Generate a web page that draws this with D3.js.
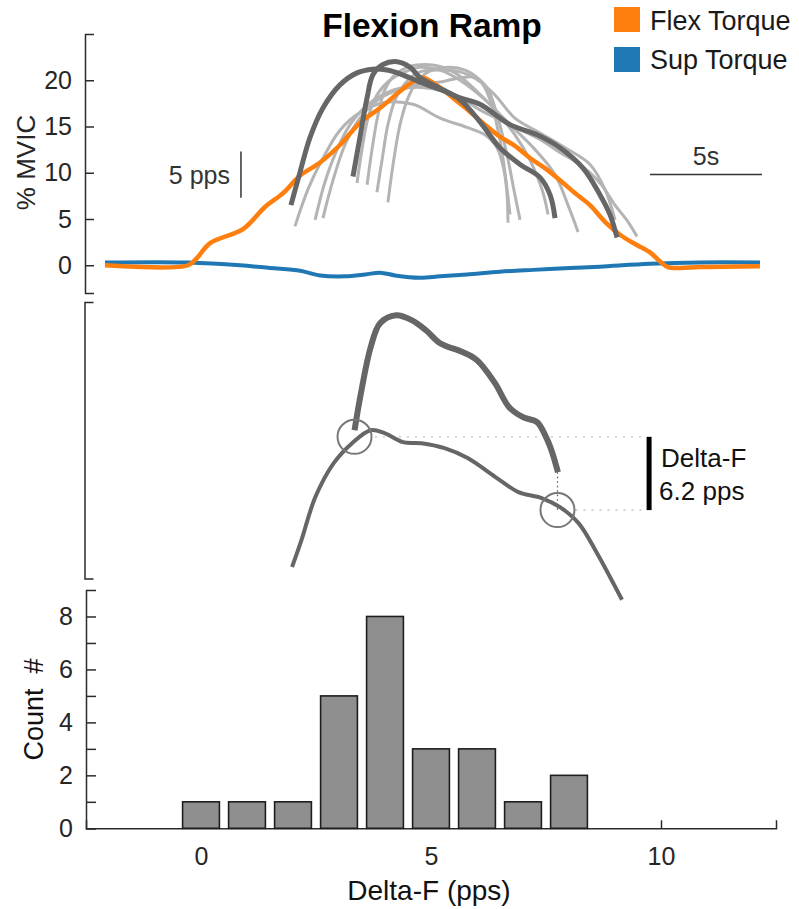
<!DOCTYPE html>
<html><head><meta charset="utf-8">
<script src="https://cdn.jsdelivr.net/npm/d3@7"></script>
<style>
body{margin:0;background:#fff}
svg text{font-family:"Liberation Sans",Arial,Helvetica,sans-serif}
</style>
</head><body>
<svg id="chart" width="799" height="909"></svg>
<script>
// ---------------- DATA ----------------
// time (s) , % MVIC
const flexTorque = [[0,0],[3.71,0],[4.11,0.8],[4.69,2.4],[6.16,3.9],[7.14,6.3],[7.95,7.8],[8.71,9.7],[9.6,11.1],[10.49,13.0],[11.38,15.4],[12.28,17.0],[13.17,18.8],[13.71,19.8],[14.15,20.3],[14.96,19.2],[15.63,17.9],[16.29,16.6],[16.96,15.2],[17.63,13.9],[18.3,12.9],[18.97,11.6],[19.64,10.5],[20.31,9.2],[20.98,7.8],[21.65,6.5],[22.32,4.7],[22.99,3.3],[23.66,2.3],[24.33,1.4],[24.78,0.4],[25.13,-0.2],[25.67,-0.3],[26.56,-0.2],[29.24,-0.1]];
const supTorque = [[0,0.3],[3.71,0.3],[6.03,0],[7.37,-0.3],[8.71,-0.6],[9.6,-1.1],[10.71,-1.2],[11.61,-1.0],[12.28,-0.8],[12.95,-1.1],[14.06,-1.35],[14.96,-1.2],[16.16,-1.0],[17.63,-0.7],[19.11,-0.5],[20.76,-0.3],[22.1,-0.15],[24.33,0.15],[26.56,0.3],[29.24,0.3]];

// smoothed firing rates of the other units (display units of the top axis)
const unitRates = [
  [[8.48,4.2],[9.06,8.2],[9.69,11.4],[10.49,14.6],[11.38,16.5],[12.5,17.6],[13.75,17.4],[14.96,15.9],[16.16,14.9],[16.96,14.1],[17.5,12.7],[17.81,10.3],[17.95,7.6],[17.99,4.6]],
  [[9.38,4.9],[9.82,9.0],[10.36,12.5],[10.94,15.2],[11.74,17.4],[12.72,18.8],[13.84,19.5],[14.96,19.8],[15.94,20.3],[16.52,20.3],[17.05,19.2],[17.5,16.3],[17.95,11.9],[18.3,7.6],[18.53,4.9]],
  [[9.73,5.1],[10.18,9.2],[10.71,13.0],[11.38,15.9],[12.19,17.9],[13.17,19.0],[14.29,19.2],[15.63,18.4],[16.74,16.8],[18.08,15.2],[19.42,13.6],[20.31,12.2],[21.21,10.9],[22.1,8.9],[22.77,6.5],[23.35,4.7],[23.75,3.1]],
  [[11.25,8.9],[11.47,12.5],[11.74,15.9],[12.14,18.4],[12.72,20.0],[13.39,20.9],[14.06,21.4],[14.96,21.1],[15.85,20.0],[16.96,17.9],[18.08,15.2],[19.2,12.5],[20.09,9.8],[20.67,6.5],[21.12,3.6]],
  [[11.7,8.7],[11.92,12.5],[12.19,16.3],[12.5,19.0],[12.95,20.6],[13.62,21.5],[14.29,21.7],[14.96,21.5],[15.63,20.8],[16.52,19.0],[17.41,16.8],[18.3,14.1],[18.97,11.4],[19.51,8.2],[19.78,5.5]],
  [[12.14,7.9],[12.37,11.4],[12.63,15.2],[12.99,18.1],[13.53,20.0],[14.06,20.9],[14.96,21.1],[15.85,20.9],[16.65,20.0],[17.41,18.4],[18.3,15.9],[19.42,14.3],[20.54,12.7],[21.65,10.9],[22.32,8.2],[22.77,4.9]],
  [[12.63,6.8],[12.86,10.9],[13.17,15.2],[13.53,18.1],[13.97,20.0],[14.6,21.1],[15.4,21.4],[16.07,21.1],[16.74,20.0],[17.19,17.9],[17.63,13.6],[17.9,9.2],[18.08,5.5]]
];
const controlRateTop = [[8.3,6.5],[8.71,10.1],[9.15,13.8],[9.73,17.0],[10.49,19.5],[11.25,20.8],[11.96,21.2],[12.59,21.1],[13.17,20.7],[14.06,19.8],[14.96,19.0],[15.85,18.1],[16.74,17.4],[18.08,15.2],[19.29,14.1],[20.31,12.7],[21.34,10.5],[22.1,7.6],[22.54,5.5],[22.86,3.0]];
const testRateTop = [[11.07,9.6],[11.38,13.8],[11.7,18.1],[11.96,20.6],[12.41,21.7],[13.04,22.0],[13.62,21.4],[14.06,20.3],[14.82,19.3],[15.85,17.9],[16.74,15.5],[17.63,12.7],[18.53,10.9],[19.42,9.5],[19.87,7.6],[20.09,5.1]];

// middle panel: pps
const testRate = [[11.14,12.55],[11.45,15.93],[11.86,19.57],[12.28,21.6],[12.99,22.28],[13.71,21.85],[14.33,21.01],[14.96,19.91],[15.98,19.15],[16.61,18.47],[17.41,16.53],[18.04,14.5],[18.66,13.65],[19.29,13.23],[19.69,11.96],[19.96,10.69],[20.22,9.0]];
const controlRate = [[8.35,0.97],[8.77,3.25],[9.39,6.89],[10.21,9.76],[11.03,11.45],[11.86,12.55],[12.48,12.3],[13.3,11.54],[14.13,11.45],[15.16,11.03],[16.19,10.19],[17.43,8.58],[18.46,7.31],[19.49,6.81],[20.31,6.04],[21.14,4.69],[21.96,2.16],[23.08,-1.8]];
const recruitT = 11.14, derecruitT = 20.2;
const rateAtRecruit = 11.99, deltaF = 6.2;

// histogram
const binCenters = [0,1,2,3,4,5,6,7,8];
const counts = [1,1,1,5,8,3,3,1,2];
const histXTicks = [0,5,10];
const histYTicks = [0,1,2,3,4,5,6,7,8];
const topYTicks = [0,5,10,15,20];

// ---------------- DRAW ----------------
const svg = d3.select("#chart");
const AX = "#2b2b2b";
const ORANGE = "#ff7f0e", BLUE = "#1f77b4", DARK = "#666666", LIGHT = "#b4b4b4";

const xT = d3.scaleLinear().domain([0,30]).range([105,777]);
const yTop = d3.scaleLinear().domain([-3,25]).range([293,34]);
const yMid = d3.scaleLinear().domain([0,23.4]).range([578.5,302]);
const xH = d3.scaleLinear().domain([-2.5,12.5]).range([86,776]);
const yH = d3.scaleLinear().domain([0,9]).range([828.3,590]);

function styleAxis(g, fs){
  g.select(".domain").attr("stroke",AX).attr("stroke-width",1.5);
  g.selectAll(".tick line").attr("stroke",AX).attr("stroke-width",1.5);
  g.selectAll(".tick text").attr("fill","#262626").attr("font-size",fs)
    .attr("font-family","'Liberation Sans',Arial,sans-serif");
}

// ---- top panel ----
const gTopAx = svg.append("g").attr("transform","translate(85,0)")
  .call(d3.axisLeft(yTop).tickValues(topYTicks).tickSizeInner(-9).tickSizeOuter(-9).tickPadding(13));
styleAxis(gTopAx, 25);

svg.append("text").attr("transform","translate(35,162.5) rotate(-90)")
  .attr("text-anchor","middle").attr("font-size",26).attr("fill","#262626").text("% MVIC");

const lineTop = d3.line().x(d=>xT(d[0])).y(d=>yTop(d[1])).curve(d3.curveCatmullRom.alpha(0.5));

svg.append("path").datum(supTorque).attr("d",lineTop).attr("fill","none")
  .attr("stroke",BLUE).attr("stroke-width",4).attr("stroke-linejoin","round");

svg.append("g").selectAll("path").data(unitRates).join("path")
  .attr("d",lineTop).attr("fill","none").attr("stroke",LIGHT).attr("stroke-width",3);

svg.append("path").datum(flexTorque).attr("d",lineTop).attr("fill","none")
  .attr("stroke",ORANGE).attr("stroke-width",4.5).attr("stroke-linejoin","round");

[controlRateTop, testRateTop].forEach(s=>{
  svg.append("path").datum(s).attr("d",lineTop).attr("fill","none")
    .attr("stroke",DARK).attr("stroke-width",5);
});

// scale bars in top panel
const ppsBarT = 6.07;
svg.append("line").attr("x1",xT(ppsBarT)).attr("x2",xT(ppsBarT))
  .attr("y1",yTop(7.3)).attr("y2",yTop(12.3)).attr("stroke","#333").attr("stroke-width",1.5);
svg.append("text").attr("x",xT(ppsBarT)-11).attr("y",184).attr("text-anchor","end")
  .attr("font-size",25).attr("fill","#333").text("5 pps");
const sBarT0 = 24.33;
svg.append("line").attr("x1",xT(sBarT0)).attr("x2",xT(sBarT0+5))
  .attr("y1",yTop(9.8)).attr("y2",yTop(9.8)).attr("stroke","#333").attr("stroke-width",1.5);
svg.append("text").attr("x",(xT(sBarT0)+xT(sBarT0+5))/2).attr("y",165).attr("text-anchor","middle")
  .attr("font-size",25).attr("fill","#333").text("5s");

// title
svg.append("text").attr("x",432).attr("y",37).attr("text-anchor","middle")
  .attr("font-size",33.5).attr("font-weight","bold").attr("fill","#000").text("Flexion Ramp");

// legend
const legend = [["Flex Torque",ORANGE],["Sup Torque",BLUE]];
legend.forEach((d,i)=>{
  svg.append("rect").attr("x",614).attr("y",7+i*40).attr("width",26).attr("height",25).attr("fill",d[1]);
  svg.append("text").attr("x",650).attr("y",30+i*38.5).attr("font-size",27).attr("fill","#1a1a1a").text(d[0]);
});

// ---- middle panel ----
const gMidAx = svg.append("g").attr("transform","translate(84.5,0)")
  .call(d3.axisLeft(yMid).tickValues([]).tickSizeOuter(-9));
styleAxis(gMidAx, 25);

const lineMid = d3.line().x(d=>xT(d[0])).y(d=>yMid(d[1])).curve(d3.curveCatmullRom.alpha(0.5));

// dotted guide lines
const guideEndT = 23.97, barT = 24.29;
svg.append("line").attr("x1",xT(12.05)).attr("x2",xT(guideEndT))
  .attr("y1",yMid(rateAtRecruit)).attr("y2",yMid(rateAtRecruit))
  .attr("stroke","#bdbdbd").attr("stroke-width",1.3).attr("stroke-dasharray","2,6");
svg.append("line").attr("x1",xT(derecruitT)+18).attr("x2",xT(guideEndT))
  .attr("y1",yMid(rateAtRecruit-deltaF)).attr("y2",yMid(rateAtRecruit-deltaF))
  .attr("stroke","#bdbdbd").attr("stroke-width",1.3).attr("stroke-dasharray","2,6");
svg.append("line").attr("x1",xT(derecruitT)).attr("x2",xT(derecruitT))
  .attr("y1",yMid(testRate[testRate.length-1][1])).attr("y2",yMid(rateAtRecruit-deltaF))
  .attr("stroke","#555").attr("stroke-width",1.2).attr("stroke-dasharray","1.5,3");

svg.append("path").datum(controlRate).attr("d",lineMid).attr("fill","none")
  .attr("stroke",DARK).attr("stroke-width",4);
svg.append("path").datum(testRate).attr("d",lineMid).attr("fill","none")
  .attr("stroke",DARK).attr("stroke-width",6).attr("stroke-linecap","butt");

[[recruitT,rateAtRecruit],[derecruitT,rateAtRecruit-deltaF]].forEach(p=>{
  svg.append("circle").attr("cx",xT(p[0])).attr("cy",yMid(p[1])).attr("r",17)
    .attr("fill","none").attr("stroke","#777").attr("stroke-width",2);
});

svg.append("line").attr("x1",xT(barT)).attr("x2",xT(barT))
  .attr("y1",yMid(rateAtRecruit)).attr("y2",yMid(rateAtRecruit-deltaF))
  .attr("stroke","#000").attr("stroke-width",5);
svg.append("text").attr("x",xT(barT)+12).attr("y",467).attr("font-size",26).attr("fill","#111").text("Delta-F");
svg.append("text").attr("x",xT(barT)+10).attr("y",500).attr("font-size",26).attr("fill","#111").text(deltaF+" pps");

// ---- histogram ----
const gHX = svg.append("g").attr("transform","translate(0,828.3)")
  .call(d3.axisBottom(xH).tickValues(histXTicks).tickSizeInner(-8).tickSizeOuter(-8).tickPadding(19));
styleAxis(gHX, 25);
const gHY = svg.append("g").attr("transform","translate(86,0)")
  .call(d3.axisLeft(yH).tickValues(histYTicks).tickSizeInner(-10).tickSizeOuter(-10).tickPadding(13)
    .tickFormat(d=> d%2===0 ? d : ""));
styleAxis(gHY, 25);

const binW = 0.8;
svg.append("g").selectAll("rect").data(binCenters).join("rect")
  .attr("x",d=>xH(d-binW/2)).attr("width",d=>xH(d+binW/2)-xH(d-binW/2))
  .attr("y",(d,i)=>yH(counts[i])).attr("height",(d,i)=>yH(0)-yH(counts[i]))
  .attr("fill","#8f8f8f").attr("stroke","#1e1e1e").attr("stroke-width",1.6);

svg.append("text").attr("x",(xH(-2.5)+xH(12.5))/2 - 2).attr("y",900).attr("text-anchor","middle")
  .attr("font-size",28).attr("fill","#111").text("Delta-F (pps)");
svg.append("text").attr("transform","translate(43,709.5) rotate(-90)")
  .attr("text-anchor","middle").attr("font-size",27).attr("fill","#111")
  .attr("xml:space","preserve").style("white-space","pre").text("Count  #");
</script>
</body></html>
